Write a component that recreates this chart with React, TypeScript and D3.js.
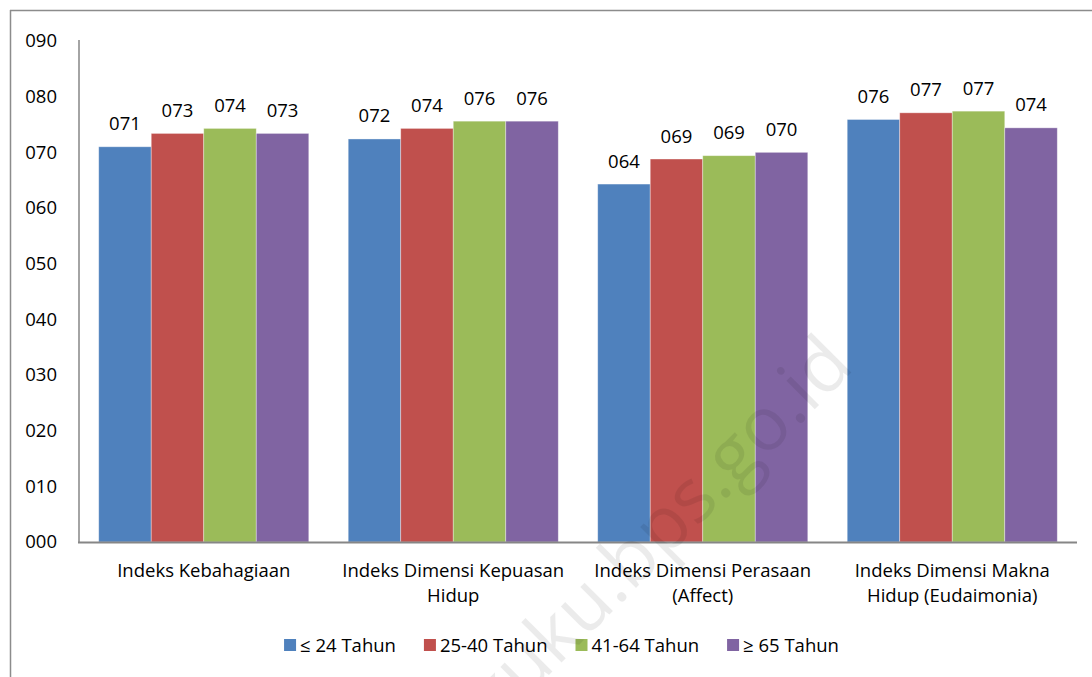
import React, { useEffect, useRef } from "react";
import * as d3 from "d3";

const categories: string[][] = [
  ["Indeks Kebahagiaan"],
  ["Indeks Dimensi Kepuasan", "Hidup"],
  ["Indeks Dimensi Perasaan", "(Affect)"],
  ["Indeks Dimensi Makna", "Hidup (Eudaimonia)"],
];
const seriesNames = ["≤ 24 Tahun", "25-40 Tahun", "41-64 Tahun", "≥ 65 Tahun"];
const seriesColors = ["#4F81BD", "#C0504D", "#9BBB59", "#8064A2"];
const age24 = [71.0, 72.4, 64.3, 75.9];
const age25_40 = [73.4, 74.3, 68.8, 77.1];
const age41_64 = [74.3, 75.6, 69.4, 77.4];
const age65 = [73.4, 75.6, 70.0, 74.4];
const yTicks = [0, 10, 20, 30, 40, 50, 60, 70, 80, 90];

const W = 1092;
const H = 677;

export default function App() {
  const ref = useRef<SVGSVGElement>(null);
  useEffect(() => {
    const svg = d3.select(ref.current);
    svg.selectAll("*").remove();
    const font = "'Open Sans', sans-serif";
    const fs = 18.5;
    const left = 79, right = 1077, top = 41, bottom = 542;
    const series = [age24, age25_40, age41_64, age65];

    const x0 = d3.scaleBand<number>().domain(d3.range(categories.length)).range([left, right]).paddingInner(0.158).paddingOuter(0.079);
    const x1 = d3.scaleBand<number>().domain(d3.range(series.length)).range([0, x0.bandwidth()]).padding(0);
    const y = d3.scaleLinear().domain([0, 90]).range([bottom, top]);
    const fmt = d3.format("03d");

    // frame
    svg.append("line").attr("x1", 10).attr("x2", W).attr("y1", 10.5).attr("y2", 10.5).attr("stroke", "#8c8c8c").attr("stroke-width", 1.5);
    svg.append("line").attr("x1", 10.5).attr("x2", 10.5).attr("y1", 10).attr("y2", H).attr("stroke", "#8c8c8c").attr("stroke-width", 1.5);

    // y tick labels
    svg.append("g").selectAll("text").data(yTicks).join("text")
      .attr("x", 57).attr("y", (d) => y(d)).attr("dy", "0.35em")
      .attr("text-anchor", "end").attr("font-family", font).attr("font-size", fs).attr("fill", "#000")
      .text((d) => fmt(d));

    // bars
    const g = svg.append("g");
    categories.forEach((_, ci) => {
      series.forEach((s, si) => {
        const v = s[ci];
        const bx = x0(ci)! + x1(si)!;
        g.append("rect").attr("x", bx).attr("y", y(v)).attr("width", x1.bandwidth()).attr("height", y(0) - y(v))
          .attr("fill", seriesColors[si]).attr("stroke", "rgba(255,255,255,0.45)").attr("stroke-width", 0.8);
        g.append("text").attr("x", bx + x1.bandwidth() / 2).attr("y", y(v) - 16.5)
          .attr("text-anchor", "middle").attr("font-family", font).attr("font-size", fs).attr("fill", "#000")
          .text(fmt(Math.round(v)));
      });
    });

    // axes lines
    svg.append("line").attr("x1", left).attr("x2", left).attr("y1", top - 1).attr("y2", bottom).attr("stroke", "#868686").attr("stroke-width", 1.5);
    svg.append("line").attr("x1", left - 1).attr("x2", right).attr("y1", bottom + 0.5).attr("y2", bottom + 0.5).attr("stroke", "#868686").attr("stroke-width", 2);

    // category labels
    categories.forEach((lines, ci) => {
      const cx = x0(ci)! + x0.bandwidth() / 2;
      lines.forEach((ln, li) => {
        svg.append("text").attr("x", cx).attr("y", 577 + li * 25).attr("text-anchor", "middle")
          .attr("font-family", font).attr("font-size", fs).attr("fill", "#000").text(ln);
      });
    });

    // legend
    const lg = svg.append("g");
    const items = seriesNames.map((name, i) => {
      const t = lg.append("text").attr("y", 652).attr("font-family", font).attr("font-size", fs).attr("fill", "#000").text(name);
      const w = (t.node() as SVGTextElement).getComputedTextLength();
      return { t, w, i };
    });
    const sq = 12, gap1 = 4, gap2 = 28;
    const total = items.reduce((a, it) => a + sq + gap1 + it.w, 0) + gap2 * (items.length - 1);
    let cur = 561.5 - total / 2;
    items.forEach((it) => {
      lg.append("rect").attr("x", cur).attr("y", 639).attr("width", sq).attr("height", sq).attr("fill", seriesColors[it.i]);
      it.t.attr("x", cur + sq + gap1);
      cur += sq + gap1 + it.w + gap2;
    });

    // watermark
    svg.append("text").attr("transform", "translate(856,368) rotate(-45)")
      .attr("text-anchor", "end").attr("font-family", font).attr("font-size", 75)
      .attr("fill", "#000").attr("fill-opacity", 0.08).text("kuku.bps.go.id");
  }, []);
  return (
    <svg ref={ref} width={W} height={H} style={{ display: "block", position: "absolute", left: 0, top: 0, background: "#fff" }} />
  );
}
